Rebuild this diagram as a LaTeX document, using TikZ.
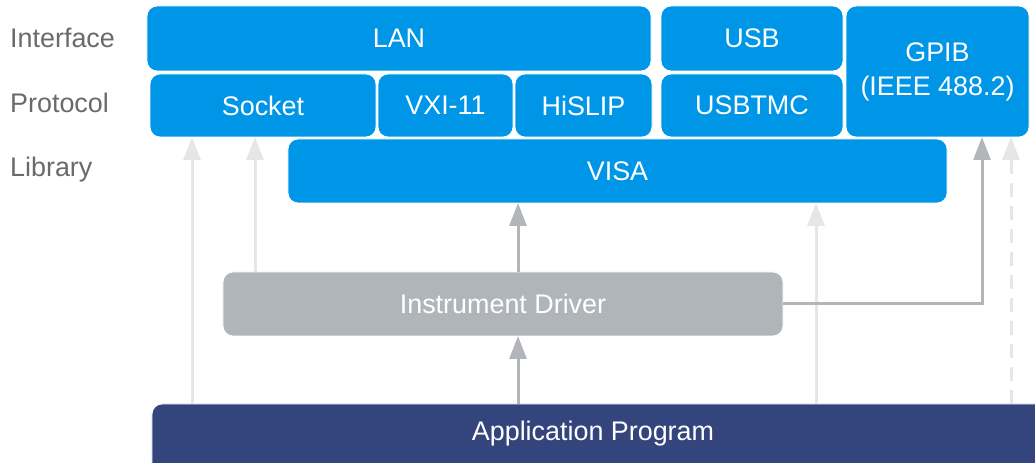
\documentclass[tikz,border=0pt]{standalone}
\usepackage{fontspec}
\setmainfont{Liberation Sans}
\usetikzlibrary{arrows.meta}
\definecolor{boxblue}{RGB}{0,150,232}
\definecolor{drvgray}{RGB}{176,181,186}
\definecolor{appnavy}{RGB}{52,68,124}
\definecolor{lblgray}{RGB}{106,106,106}
\definecolor{lightarr}{RGB}{230,230,230}
\definecolor{darkarr}{RGB}{178,182,187}
\tikzset{
  blk/.style={draw=white, line width=0.8bp, rounded corners=10bp, text=white, inner sep=0pt, align=center, font=\fontsize{27}{33}\selectfont},
  bluebox/.style={blk, fill=boxblue},
  lbl/.style={anchor=west, inner sep=0pt, text=lblgray, font=\fontsize{27}{33}\selectfont},
  lightline/.style={draw=lightarr, line width=3bp, -{Triangle[width=17bp,length=23bp]}},
  darkline/.style={draw=darkarr, line width=3bp, -{Triangle[width=17bp,length=23bp]}},
}
\begin{document}
\begin{tikzpicture}[x=1bp,y=-1bp]
\useasboundingbox (0,0) rectangle (1035,463);
\clip (0,0) rectangle (1035,463);
% layer labels
\node[lbl] (lint) at (10,38) {Interface};
\node[lbl] (lpro) at (10,103) {Protocol};
\node[lbl] (llib) at (10,170) {Library};
% interface
\node[bluebox, minimum width=504bp, minimum height=65bp] (lan) at (399,38.5) {LAN};
\node[bluebox, minimum width=182bp, minimum height=65bp] (usb) at (752,38.5) {USB};
\node[bluebox, minimum width=183bp, minimum height=131bp] (gpib) at (937.5,71.5) {GPIB\\[1pt](IEEE 488.2)};
% protocol
\node[bluebox, minimum width=226bp, minimum height=63bp] (sock) at (263,105.5) {Socket};
\node[bluebox, minimum width=135bp, minimum height=63bp] (vxi) at (445.5,105.5) {VXI-11};
\node[bluebox, minimum width=137bp, minimum height=63bp] (hislip) at (583.5,105.5) {HiSLIP};
\node[bluebox, minimum width=182bp, minimum height=63bp] (usbtmc) at (752,105.5) {USBTMC};
% library
\node[bluebox, minimum width=659bp, minimum height=64bp] (visa) at (617.5,171) {VISA};
% driver
\node[blk, fill=drvgray, minimum width=560bp, minimum height=64bp] (drv) at (503,304) {Instrument Driver};
% application
\node[blk, fill=appnavy, minimum width=900bp, minimum height=90bp] (app) at (602,449) {};
\node[text=white, inner sep=0pt, font=\fontsize{27}{33}\selectfont] (apptxt) at (593,434) {Application Program};
% connectors
\coordinate (a1) at (192,404); \coordinate (s1) at (192,137);
\draw[lightline] (a1) -- (s1);
\coordinate (d1) at (255,272); \coordinate (s2) at (255,137);
\draw[lightline] (d1) -- (s2);
\coordinate (a2) at (816,404); \coordinate (v2) at (816,203);
\draw[lightline] (a2) -- (v2);
\coordinate (a3) at (1011,404); \coordinate (g3) at (1011,137);
\draw[lightline, dash pattern=on 14bp off 9bp] (a3) -- (g3);
\coordinate (a4) at (518,404); \coordinate (d4) at (518,336);
\draw[darkline] (a4) -- (d4);
\coordinate (d5) at (518,272); \coordinate (v5) at (518,203);
\draw[darkline] (d5) -- (v5);
\coordinate (g5) at (982,137);
\draw[darkline] (drv.east) -| (g5);
\end{tikzpicture}
\end{document}
